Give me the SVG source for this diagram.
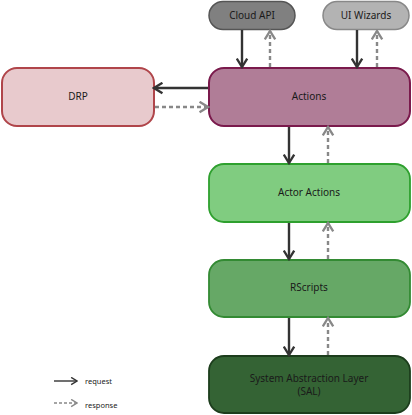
<svg xmlns="http://www.w3.org/2000/svg" width="412" height="415" viewBox="0 0 412 415">
<defs>
<style>
.lbl{font-family:"Noto Sans","DejaVu Sans",sans-serif;font-size:10px;fill:#1a1a1a;text-anchor:middle}
.leg{font-family:"Noto Sans","DejaVu Sans",sans-serif;font-size:7.5px;fill:#222}
.req{stroke:#333;stroke-width:2.4;fill:none}
.res{stroke:#888;stroke-width:2.4;fill:none;stroke-dasharray:4,3}
.req1{stroke:#333;stroke-width:1.4;fill:none}
.res1{stroke:#888;stroke-width:1.4;fill:none;stroke-dasharray:3,2}
</style>
<marker id="mReq" markerUnits="userSpaceOnUse" viewBox="0 0 10 10" refX="8.5" refY="5" markerWidth="13" markerHeight="13" orient="auto">
<path d="M2,1 L8.5,5 L2,9" fill="none" stroke="#333" stroke-width="1.8"/>
</marker>
<marker id="mRes" markerUnits="userSpaceOnUse" viewBox="0 0 10 10" refX="8.5" refY="5" markerWidth="13" markerHeight="13" orient="auto">
<path d="M2,1 L8.5,5 L2,9" fill="none" stroke="#888" stroke-width="1.8"/>
</marker>
<marker id="mReqS" markerUnits="userSpaceOnUse" viewBox="0 0 10 10" refX="8.5" refY="5" markerWidth="9" markerHeight="9" orient="auto">
<path d="M2,1 L8.5,5 L2,9" fill="none" stroke="#333" stroke-width="1.6"/>
</marker>
<marker id="mResS" markerUnits="userSpaceOnUse" viewBox="0 0 10 10" refX="8.5" refY="5" markerWidth="9" markerHeight="9" orient="auto">
<path d="M2,1 L8.5,5 L2,9" fill="none" stroke="#888" stroke-width="1.6"/>
</marker>
</defs>
<rect width="412" height="415" fill="#ffffff"/>

<g id="cloud-api">
<rect x="209" y="1.5" width="86" height="28" rx="14" fill="#808080" stroke="#555555" stroke-width="1.5"/>
<text class="lbl" x="252" y="19">Cloud API</text>
</g>
<g id="ui-wizards">
<rect x="323" y="1.5" width="86" height="28" rx="14" fill="#b3b3b3" stroke="#888888" stroke-width="1.5"/>
<text class="lbl" x="366" y="19">UI Wizards</text>
</g>
<g id="drp">
<rect x="2" y="68" width="152" height="58" rx="15" fill="#e8cacd" stroke="#b0454a" stroke-width="2"/>
<text class="lbl" x="78" y="100">DRP</text>
</g>
<g id="actions">
<rect x="209" y="68" width="201" height="58" rx="15" fill="#b07d97" stroke="#7a1a4c" stroke-width="2"/>
<text class="lbl" x="309" y="100">Actions</text>
</g>
<g id="actor-actions">
<rect x="209" y="164" width="201" height="58" rx="15" fill="#80cc80" stroke="#2ea02e" stroke-width="1.8"/>
<text class="lbl" x="309" y="196">Actor Actions</text>
</g>
<g id="rscripts">
<rect x="209" y="260" width="201" height="57" rx="15" fill="#66a866" stroke="#338a33" stroke-width="1.8"/>
<text class="lbl" x="309" y="291">RScripts</text>
</g>
<g id="sal">
<rect x="209" y="356" width="201" height="57" rx="15" fill="#346334" stroke="#1c3d1c" stroke-width="1.8"/>
<text class="lbl" x="309" y="382">System Abstraction Layer</text>
<text class="lbl" x="309" y="395">(SAL)</text>
</g>

<g id="connectors">
<line class="req" x1="242" y1="30" x2="242" y2="67" marker-end="url(#mReq)"/>
<line class="res" x1="270" y1="67" x2="270" y2="31" marker-end="url(#mRes)"/>
<line class="req" x1="357" y1="30" x2="357" y2="67" marker-end="url(#mReq)"/>
<line class="res" x1="377" y1="67" x2="377" y2="31" marker-end="url(#mRes)"/>
<line class="req" x1="208" y1="88" x2="154" y2="88" marker-end="url(#mReq)"/>
<line class="res" x1="155" y1="107" x2="208" y2="107" marker-end="url(#mRes)"/>
<line class="req" x1="289" y1="127" x2="289" y2="163" marker-end="url(#mReq)"/>
<line class="res" x1="328" y1="163" x2="328" y2="127" marker-end="url(#mRes)"/>
<line class="req" x1="289" y1="223" x2="289" y2="259" marker-end="url(#mReq)"/>
<line class="res" x1="328" y1="259" x2="328" y2="223" marker-end="url(#mRes)"/>
<line class="req" x1="289" y1="318" x2="289" y2="355" marker-end="url(#mReq)"/>
<line class="res" x1="328" y1="355" x2="328" y2="318" marker-end="url(#mRes)"/>
</g>

<g id="legend">
<line class="req1" x1="54" y1="381" x2="77" y2="381" marker-end="url(#mReqS)"/>
<text class="leg" x="85" y="384">request</text>
<line class="res1" x1="54" y1="403" x2="77" y2="403" marker-end="url(#mResS)"/>
<text class="leg" x="85" y="408">response</text>
</g>
</svg>
